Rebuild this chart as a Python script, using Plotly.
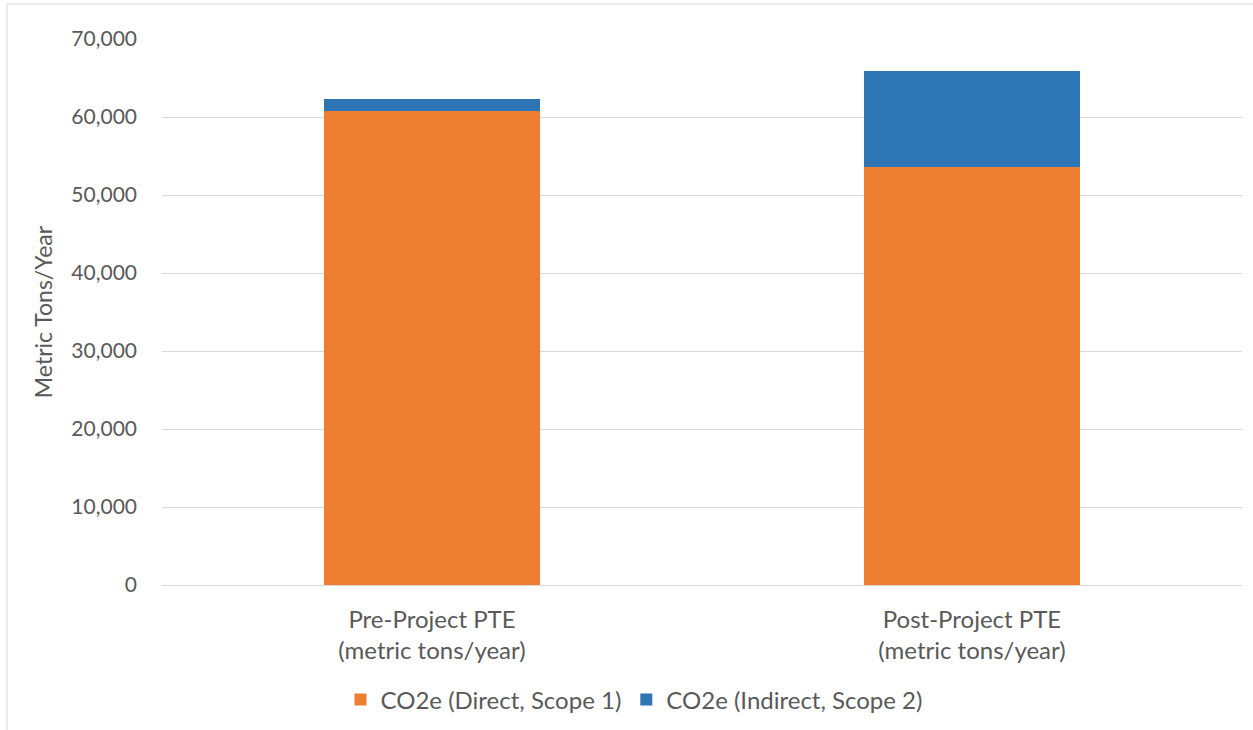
import plotly.graph_objects as go

categories = ["Pre-Project PTE<br>(metric tons/year)", "Post-Project PTE<br>(metric tons/year)"]
direct_scope1 = [60770, 53550]
indirect_scope2 = [1500, 12390]
series_names = ["CO2e (Direct, Scope 1)", "CO2e (Indirect, Scope 2)"]
y_ticks = [0, 10000, 20000, 30000, 40000, 50000, 60000, 70000]

FONT = "Lato, Open Sans, sans-serif"
W, H = 1253, 730
L, R, T, B = 162, 11, 39, 145
pw, ph = W - L - R, H - T - B
GREY = "#595959"

fig = go.Figure()
fig.add_trace(go.Bar(x=categories, y=direct_scope1, name=series_names[0],
                     marker=dict(color="#ED7D31", line=dict(width=0)), width=0.4))
fig.add_trace(go.Bar(x=categories, y=indirect_scope2, name=series_names[1],
                     marker=dict(color="#2E75B6", line=dict(width=0)), width=0.4))

fig.update_layout(
    barmode="stack",
    width=W, height=H,
    margin=dict(l=L, r=R, t=T, b=B, pad=0, autoexpand=False),
    paper_bgcolor="white", plot_bgcolor="white",
    font=dict(family=FONT, size=22, color=GREY),
    showlegend=True,
    legend=dict(orientation="h", x=(634 - L) / pw, xanchor="center", y=-(700 - 585) / ph, yanchor="middle",
                font=dict(size=24, color=GREY), traceorder="normal", itemwidth=30),
    xaxis=dict(showgrid=False, showline=True, linecolor="#d9d9d9", linewidth=1, automargin=False,
               ticks="", ticklabelstandoff=13, tickfont=dict(size=24, color=GREY)),
    yaxis=dict(range=[0, 70000], tickvals=y_ticks, tickformat=",d", automargin=False,
               showgrid=True, gridcolor="#d9d9d9", gridwidth=1,
               zeroline=True, zerolinecolor="#d9d9d9", zerolinewidth=1,
               showline=False, ticks="", ticklabelstandoff=24,
               tickfont=dict(size=21, color=GREY),
               title=dict(text="Metric Tons/Year", font=dict(size=23, color=GREY), standoff=12)),
    shapes=[
        dict(type="line", xref="paper", yref="paper", x0=(7 - L) / pw, x1=(W - L) / pw,
             y0=(H - B - 4) / ph, y1=(H - B - 4) / ph, line=dict(color="#d9d9d9", width=1)),
        dict(type="line", xref="paper", yref="paper", x0=(7 - L) / pw, x1=(7 - L) / pw,
             y0=(H - B - 4) / ph, y1=-(H - B) / ph - 0.01, line=dict(color="#d9d9d9", width=1)),
    ],
)

fig.write_html("out.html")
